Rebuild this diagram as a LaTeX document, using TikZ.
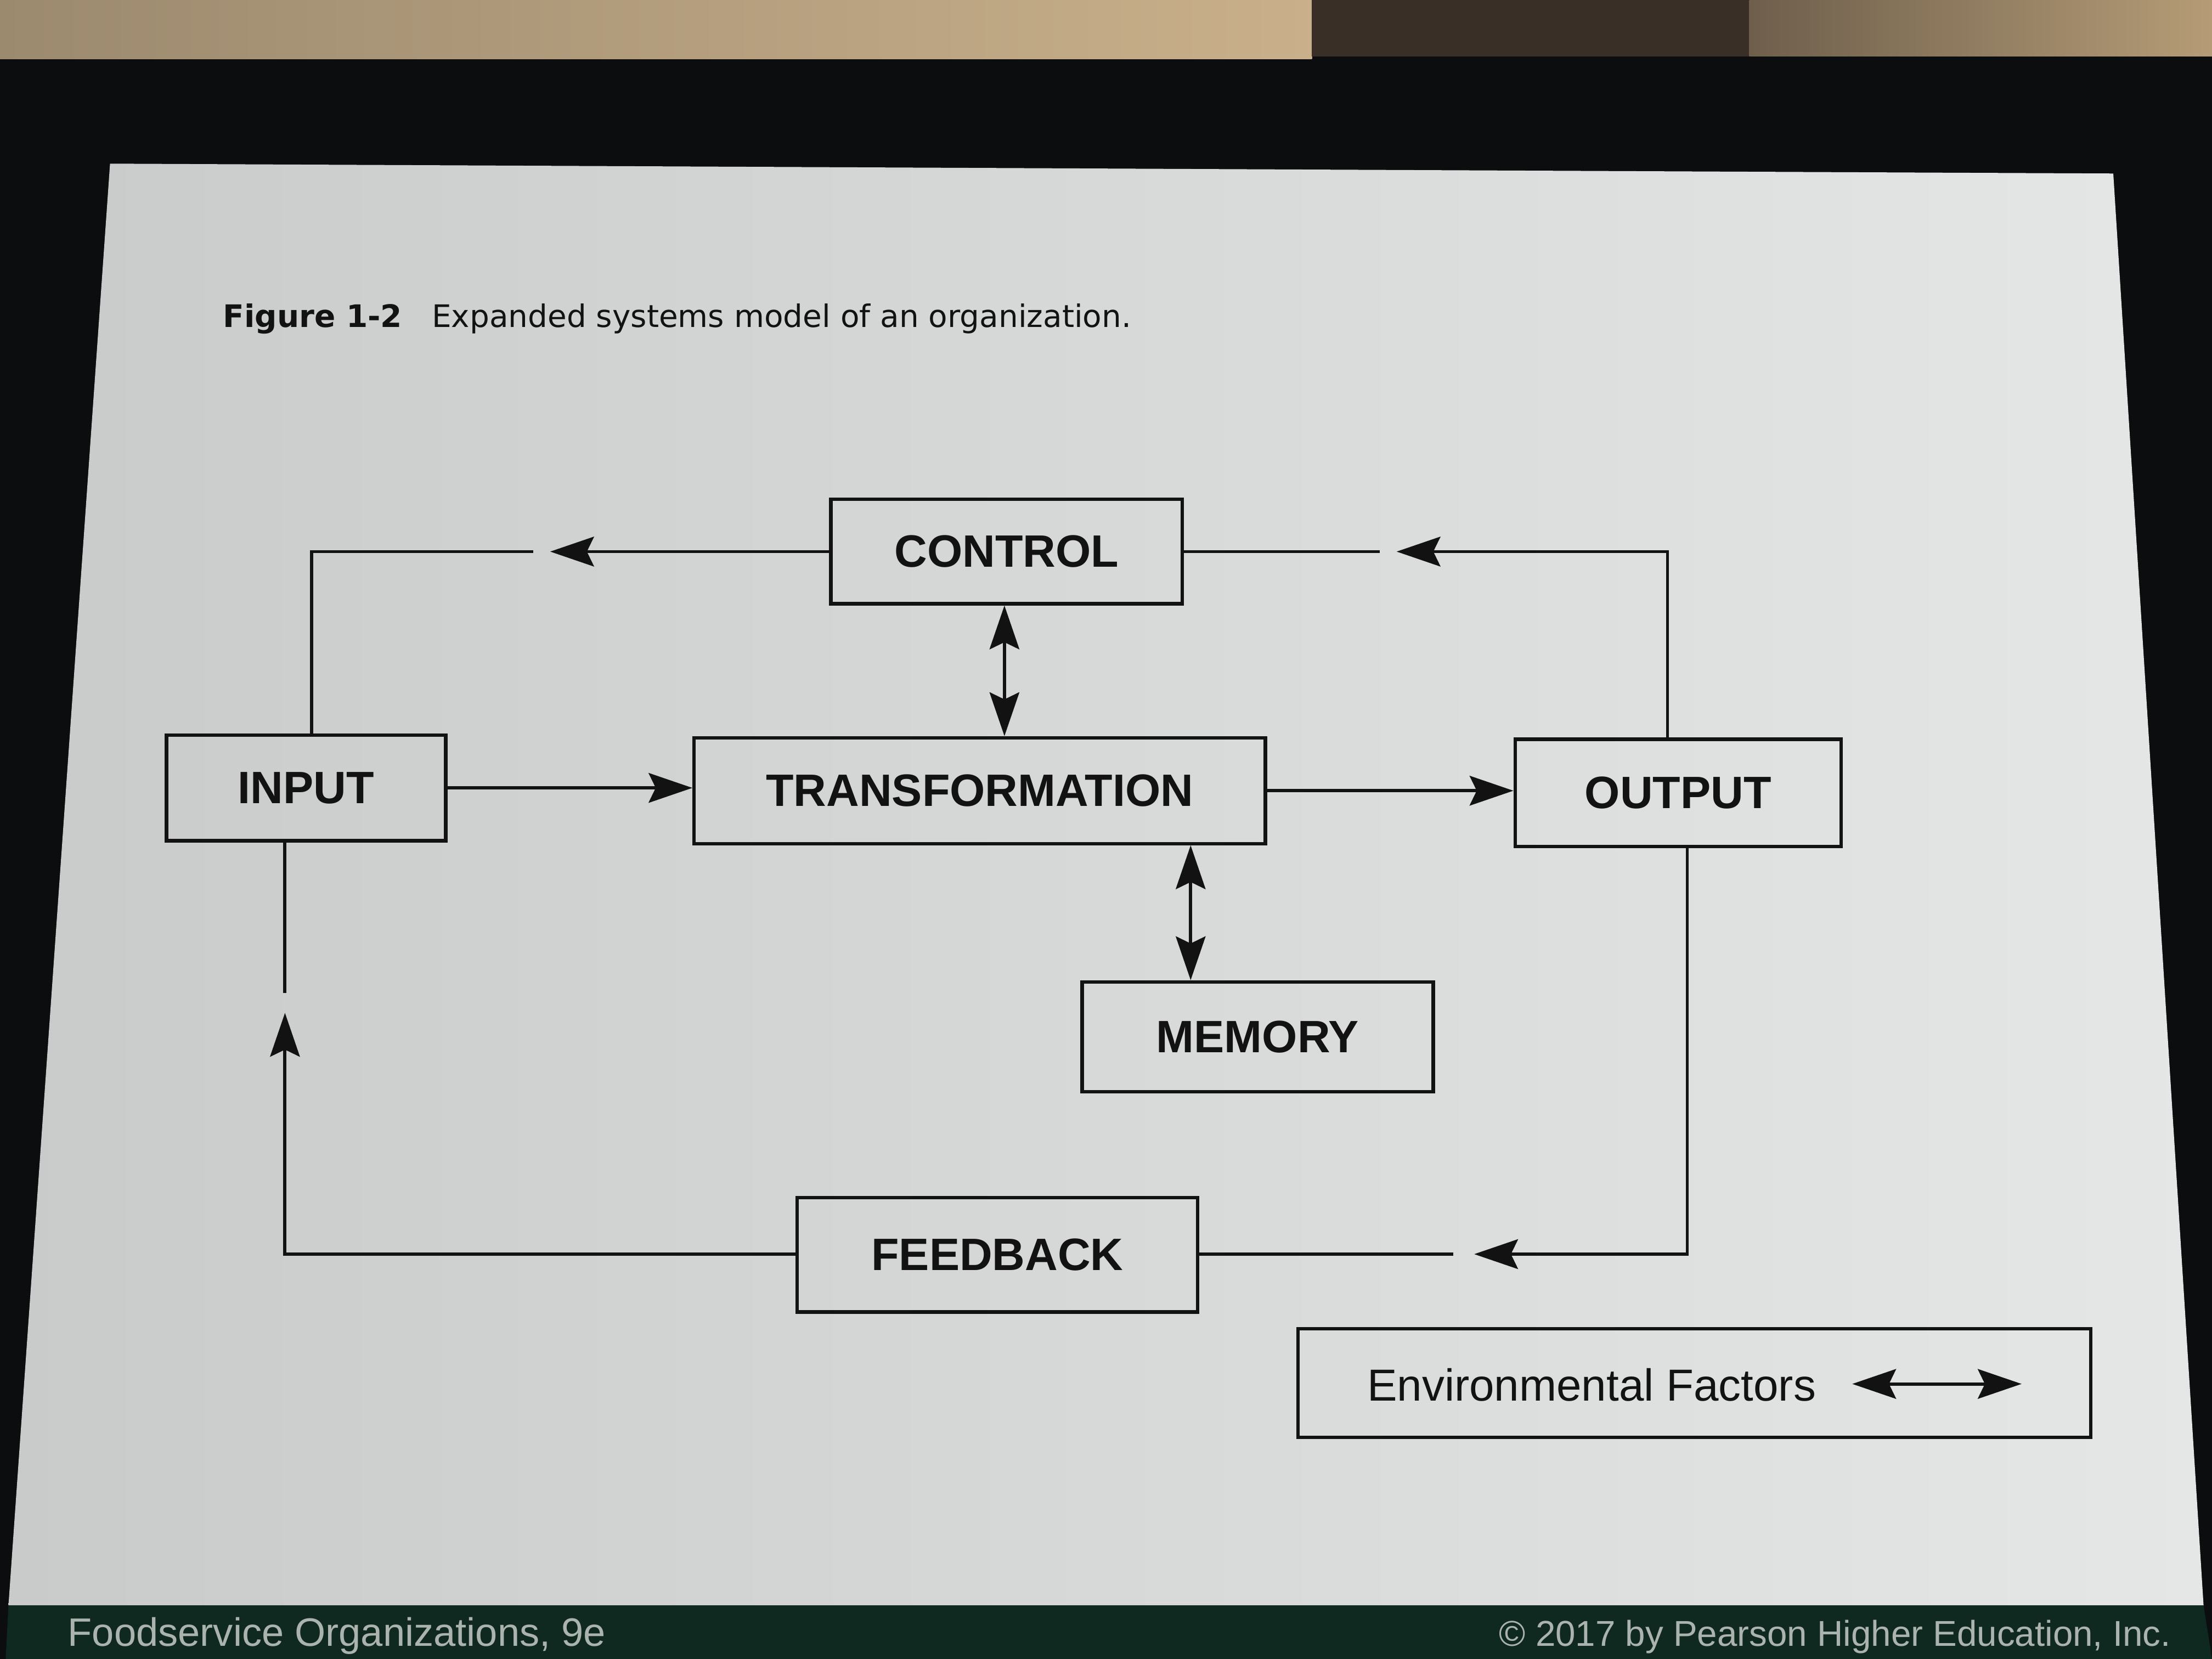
\documentclass[tikz,border=0pt]{standalone}
\usepackage{fontspec}
\setmainfont{Liberation Sans}
\newfontfamily\capfont{DejaVu Sans}
\usetikzlibrary{arrows.meta}
\definecolor{bezel}{HTML}{0B0D0E}
\definecolor{slideL}{HTML}{C8CBCA}
\definecolor{slideR}{HTML}{E4E7E5}
\definecolor{footc}{HTML}{0F2820}
\definecolor{foottxt}{HTML}{AAB3AE}
\definecolor{topA}{HTML}{9C8A6F}
\definecolor{topB}{HTML}{C9B08A}
\definecolor{topD}{HTML}{3A2F26}
\definecolor{topE}{HTML}{6E5F4C}
\definecolor{topF}{HTML}{B59C76}
\definecolor{ink}{HTML}{121212}
\begin{document}
\begin{tikzpicture}[x=0.02cm,y=-0.02cm,
  line width=1.3pt, draw=ink,
  box/.style={draw=ink, line width=1.4pt, inner sep=0pt, text=ink,
    font=\fontsize{18.3}{22}\selectfont\bfseries},
  tip/.style={-{Stealth[length=0.62cm,width=0.42cm,inset=0.1cm]}},
  dtip/.style={{Stealth[length=0.62cm,width=0.42cm,inset=0.1cm]}-{Stealth[length=0.62cm,width=0.42cm,inset=0.1cm]}}]
\useasboundingbox (0,0) rectangle (1568,1176);
% photo surroundings
\fill[bezel] (0,0) rectangle (1568,1176);
\shade[left color=topA, right color=topB] (0,0) rectangle (930,42);
\fill[topD] (930,0) rectangle (1240,40);
\shade[left color=topE, right color=topF] (1240,0) rectangle (1568,40);
\shade[left color=slideL, right color=slideR] (78,116) -- (1498,123) -- (1562,1138) -- (6,1138) -- cycle;
\fill[footc] (6,1138) -- (1562,1138) -- (1568,1176) -- (4,1176) -- cycle;
\node[anchor=base west, inner sep=0pt, text=foottxt, font=\fontsize{16}{18}\selectfont] (ft1) at (47,1167) {Foodservice Organizations, 9e};
\node[anchor=base east, inner sep=0pt, text=foottxt, font=\fontsize{14.5}{16}\selectfont] (ft2) at (1540,1167) {\textcopyright{} 2017 by Pearson Higher Education, Inc.};
% caption
\node[anchor=base west, inner sep=0pt, text=ink] (cap) at (157,232)
  {\capfont\fontsize{12.5}{14}\selectfont\textbf{Figure 1-2}\hspace{0.42cm}Expanded systems model of an organization.};
% boxes
\node[box, minimum width=4.98cm, minimum height=1.48cm] (ctrl) at (713.5,391) {CONTROL};
\node[box, minimum width=3.96cm, minimum height=1.50cm] (in) at (217,558.5) {INPUT};
\node[box, minimum width=8.10cm, minimum height=1.50cm] (tr) at (694.5,560.5) {TRANSFORMATION};
\node[box, minimum width=4.62cm, minimum height=1.52cm] (out) at (1189.5,562) {OUTPUT};
\node[box, minimum width=4.98cm, minimum height=1.56cm] (mem) at (891.5,735) {MEMORY};
\node[box, minimum width=5.68cm, minimum height=1.62cm] (fb) at (707,889.5) {FEEDBACK};
\node[box, minimum width=11.24cm, minimum height=1.54cm] (env) at (1201,980.5) {};
\node[anchor=base west, inner sep=0pt, text=ink, font=\fontsize{18.1}{22}\selectfont] (envt) at (968,993) {Environmental Factors};
% coordinates
\coordinate (ctipL) at (390,391);
\coordinate (cgapL) at (378,391);
\coordinate (ccornL) at (221,391);
\coordinate (ccornR) at (1182,391);
\coordinate (ctipR) at (990,391);
\coordinate (cgapR) at (978,391);
\coordinate (v1) at (712,0);
\coordinate (v2) at (844,0);
\coordinate (fcornR) at (1196,889);
\coordinate (ftipR) at (1045,889);
\coordinate (fgapR) at (1030,889);
\coordinate (fcornL) at (202,889);
\coordinate (ftipL) at (202,718);
\coordinate (fgapL) at (202,704);
\coordinate (ea) at (1313,981);
\coordinate (eb) at (1433,981);
% connectors
\draw[tip] (ctrl.west) -- (ctipL);
\draw (cgapL) -- (ccornL) -- (ccornL |- in.north);
\draw[tip] (out.north -| ccornR) -- (ccornR) -- (ctipR);
\draw (cgapR) -- (ctrl.east |- cgapR);
\draw[dtip] (ctrl.south -| v1) -- (tr.north -| v1);
\draw[tip] (in.east) -- (in.east -| tr.west);
\draw[tip] (tr.east) -- (tr.east -| out.west);
\draw[dtip] (tr.south -| v2) -- (mem.north -| v2);
\draw[tip] (out.south -| fcornR) -- (fcornR) -- (ftipR);
\draw (fgapR) -- (fb.east |- fgapR);
\draw[tip] (fb.west |- fcornL) -- (fcornL) -- (ftipL);
\draw (fgapL) -- (in.south -| fgapL);
\draw[dtip] (ea) -- (eb);
\end{tikzpicture}
\end{document}
